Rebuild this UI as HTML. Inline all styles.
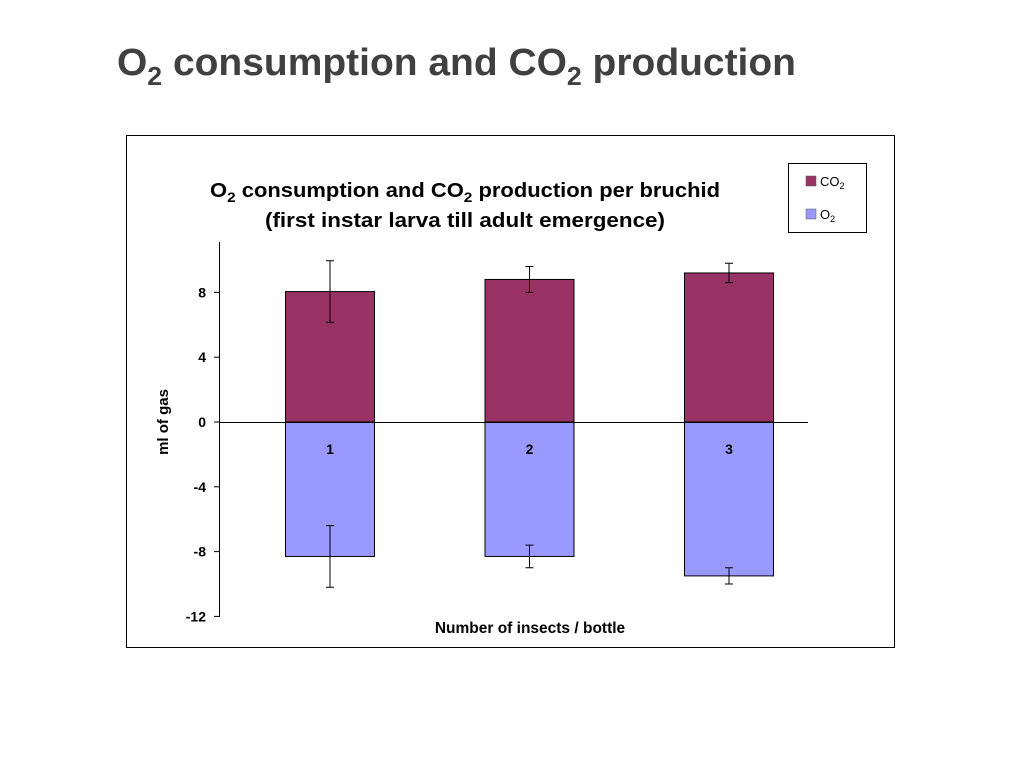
<!DOCTYPE html>
<html><head><meta charset="utf-8"><style>
body{margin:0;background:#fff;width:1024px;height:768px;overflow:hidden;font-family:"Liberation Sans",sans-serif}
</style></head><body>
<svg width="1024" height="768" xmlns="http://www.w3.org/2000/svg">
<text x="117" y="75" font-size="38" font-weight="bold" fill="#404040" font-family="Liberation Sans,sans-serif" textLength="679" lengthAdjust="spacingAndGlyphs">O<tspan font-size="26" dy="10">2</tspan><tspan dy="-10"> consumption and CO</tspan><tspan font-size="26" dy="10">2</tspan><tspan dy="-10"> production</tspan></text>
<rect x="126.5" y="135.5" width="768" height="512" fill="#fff" stroke="#000" stroke-width="1"/>
<text x="210" y="197" font-size="20" font-weight="bold" textLength="510" lengthAdjust="spacingAndGlyphs">O<tspan font-size="14" dy="5">2</tspan><tspan dy="-5"> consumption and CO</tspan><tspan font-size="14" dy="5">2</tspan><tspan dy="-5"> production per bruchid</tspan></text>
<text x="265" y="227" font-size="20" font-weight="bold" textLength="400" lengthAdjust="spacingAndGlyphs">(first instar larva till adult emergence)</text>
<g>
<rect x="788.5" y="163.5" width="78" height="69" fill="#fff" stroke="#000"/>
<rect x="806" y="176" width="10" height="10" fill="#993366" stroke="#555" stroke-width="0.5"/>
<text x="820" y="186" font-size="13">CO<tspan font-size="9" dy="3">2</tspan></text>
<rect x="806" y="209" width="10" height="10" fill="#9999FF" stroke="#555" stroke-width="0.5"/>
<text x="820" y="219" font-size="13">O<tspan font-size="9" dy="3">2</tspan></text>
</g>
<g id="plot"></g>
<text transform="translate(168,422) rotate(-90)" font-size="15" font-weight="bold" text-anchor="middle">ml of gas</text>
<text x="530" y="633" font-size="15.5" font-weight="bold" text-anchor="middle">Number of insects / bottle</text>
</svg>
<script>
const categories=["1","2","3"];
const co2Values=[8.05,8.8,9.2];
const co2Err=[1.9,0.8,0.6];
const o2Values=[-8.3,-8.3,-9.5];
const o2Err=[1.9,0.7,0.5];
const yTicks=[8,4,0,-4,-8,-12];
const NS="http://www.w3.org/2000/svg";
const g=document.getElementById('plot');
const y=v=>422-v*16.2;
const xc=i=>330+i*199.5;
function el(t,a){const e=document.createElementNS(NS,t);for(const k in a)e.setAttribute(k,a[k]);g.appendChild(e);return e;}
let ax=el('line',{x1:219.5,y1:242,x2:219.5,y2:617,stroke:'#000'});


yTicks.forEach(t=>{
 let tk=el('line',{x1:214,x2:219.5,y1:y(t),y2:y(t),stroke:'#000'});
 
 
 let lb=el('text',{x:206,y:y(t)+5,'font-size':14,'font-weight':'bold','text-anchor':'end'});
 lb.textContent=t;
 
 
});
categories.forEach((c,i)=>{
 const x=xc(i),w=89;
 let b=el('rect',{x:x-w/2,y:y(co2Values[i]),width:w,height:y(0)-y(co2Values[i]),fill:'#993366',stroke:'#000','stroke-width':1});
 
 
 let b2=el('rect',{x:x-w/2,y:y(0),width:w,height:y(o2Values[i])-y(0),fill:'#9999FF',stroke:'#000','stroke-width':1});
 
 
 [[co2Values[i],co2Err[i]],[o2Values[i],o2Err[i]]].forEach(([v,e])=>{
  const p=el('path',{d:`M${x},${y(v+e)}V${y(v-e)}M${x-4},${y(v+e)}H${x+4}M${x-4},${y(v-e)}H${x+4}`,stroke:'#000',fill:'none'});
  
  
 });
 let t=el('text',{x:x,y:454,'font-size':14,'font-weight':'bold','text-anchor':'middle'});
 t.textContent=c;
 
 
});
let z=el('line',{x1:219,x2:808,y1:y(0)+0.5,y2:y(0)+0.5,stroke:'#000'});


</script>
</body></html>
